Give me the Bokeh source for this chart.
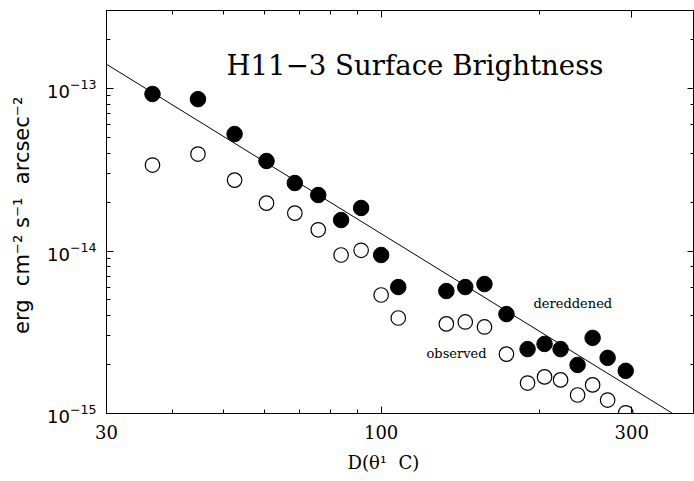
from bokeh.plotting import figure
from bokeh.models import LogAxis, FixedTicker, LogTicker, PrintfTickFormatter, Label, Range1d
from bokeh.embed import file_html
from bokeh.resources import INLINE

# Distance D(theta1 C) for each position
dist = [36.7, 44.8, 52.6, 60.5, 68.5, 75.9, 83.9, 91.6, 100.0, 107.8, 133.1,
        144.6, 157.3, 173.2, 190.0, 204.7, 219.6, 236.6, 252.7, 269.9, 292.2]
# Dereddened surface brightness (filled circles)
dereddened = [9.25e-14, 8.6e-14, 5.25e-14, 3.58e-14, 2.62e-14, 2.21e-14, 1.55e-14,
              1.84e-14, 9.45e-15, 6.0e-15, 5.67e-15, 6.0e-15, 6.26e-15, 4.09e-15,
              2.49e-15, 2.68e-15, 2.49e-15, 1.99e-15, 2.92e-15, 2.20e-15, 1.83e-15]
# Observed surface brightness (open circles)
observed = [3.38e-14, 3.95e-14, 2.73e-14, 1.97e-14, 1.71e-14, 1.35e-14, 9.45e-15,
            1.01e-14, 5.36e-15, 3.87e-15, 3.56e-15, 3.66e-15, 3.41e-15, 2.32e-15,
            1.54e-15, 1.68e-15, 1.61e-15, 1.30e-15, 1.50e-15, 1.21e-15, 1.01e-15]
# Power-law fit line end points
fit_d = [30, 359]
fit_sb = [1.41e-13, 1.0e-15]

x_major = [30, 100, 300]
x_minor = [40, 50, 60, 70, 80, 90, 200]

SERIF = "DejaVu Serif"
SANS = "DejaVu Sans"
NB = "\u00a0"

p = figure(width=694, height=481, x_axis_type="log", y_axis_type="log",
           x_range=Range1d(30, 395), y_range=Range1d(1e-15, 3.02e-13),
           output_backend="svg", toolbar_location=None,
           min_border_left=106, min_border_right=0, min_border_top=10, min_border_bottom=68)
p.outline_line_color = "black"
p.xgrid.visible = False
p.ygrid.visible = False
p.background_fill_color = "white"
p.border_fill_color = "white"


def style_axis(ax, labels=True):
    ax.axis_line_color = "black"
    ax.major_tick_line_color = "black"
    ax.minor_tick_line_color = "black"
    ax.major_tick_in = 7
    ax.major_tick_out = 0
    ax.minor_tick_in = 4
    ax.minor_tick_out = 0
    if not labels:
        ax.major_label_text_font_size = "0px"
        ax.major_label_text_alpha = 0
        ax.major_label_standoff = 0


xa = p.xaxis[0]
xa.ticker = FixedTicker(ticks=x_major, minor_ticks=x_minor)
xa.formatter = PrintfTickFormatter(format="%d")
style_axis(xa)
xa.major_label_text_font = SERIF
xa.major_label_text_font_size = "18px"
xa.major_label_text_color = "black"
xa.major_label_standoff = 11
xa.axis_label = "D(\u03b8\u00b9" + NB + " C)" + NB * 6
xa.axis_label_text_font = SERIF
xa.axis_label_text_font_size = "18px"
xa.axis_label_text_font_style = "normal"
xa.axis_label_text_color = "black"
xa.axis_label_standoff = 10

ya = p.yaxis[0]
style_axis(ya)
ya.major_label_text_font = SANS
ya.major_label_text_font_size = "18px"
ya.major_label_text_color = "black"
ya.major_label_standoff = 10
ya.axis_label = ("erg" + NB + " cm\u207b\u00b2" + NB + "s\u207b\u00b9" + NB +
                 " arcsec\u207b\u00b2" + NB)
ya.axis_label_text_font = SANS
ya.axis_label_text_font_size = "21px"
ya.axis_label_text_font_style = "normal"
ya.axis_label_text_color = "black"
ya.axis_label_standoff = 10

top = LogAxis(ticker=FixedTicker(ticks=x_major, minor_ticks=x_minor))
style_axis(top, labels=False)
p.add_layout(top, "above")
right = LogAxis(ticker=LogTicker())
style_axis(right, labels=False)
p.add_layout(right, "right")

p.line(fit_d, fit_sb, line_color="black", line_width=1)
p.scatter(dist, observed, size=14.5, marker="circle", fill_color="white",
          line_color="black", line_width=1.2)
p.scatter(dist, dereddened, size=15.5, marker="circle", fill_color="black",
          line_color="black", line_width=1)


def lab(text, x, y, size):
    p.add_layout(Label(x=x, y=y, x_units="screen", y_units="screen", text=text,
                       text_font=SERIF, text_font_size=size, text_color="black",
                       text_align="left", text_baseline="alphabetic"))


# title and annotations (frame-relative screen coordinates)
lab("H11\u22123 Surface Brightness", 120, 348, "27.6px")
lab("dereddened", 427, 110, "13px")
lab("observed", 320, 60, "13px")

open("out.html", "w").write(file_html(p, INLINE))
